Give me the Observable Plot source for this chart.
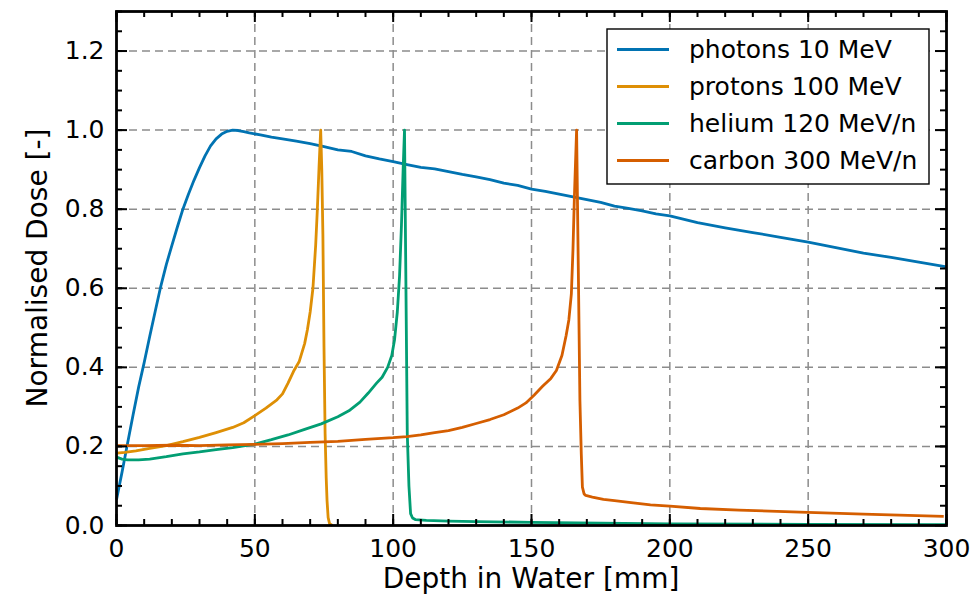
<!DOCTYPE html>
<html>
<head>
<meta charset="utf-8">
<script src="https://cdn.jsdelivr.net/npm/d3@7"></script>
<script src="https://cdn.jsdelivr.net/npm/@observablehq/plot@0.6"></script>
<style>
  html, body { margin: 0; padding: 0; background: white; }
  #chart { width: 978px; height: 598px; }
</style>
</head>
<body>
<div id="chart"></div>
<script>
// ---- Data ----
const seriesNames = ["photons 10 MeV", "protons 100 MeV", "helium 120 MeV/n", "carbon 300 MeV/n"];
const seriesColors = ["#0173B2", "#DE8F05", "#029E73", "#D55E00"];

const photonDepth = [0,2,4,6,8,10,12,14,16,18,20,22,24,26,28,30,32,34,36,38,40,42,44,46,48,52,56,60,65,70,75,80,85,90,95,100,105,110,115,120,125,130,135,140,145,150,155,160,165,170,175,180,185,190,195,200,210,220,230,240,250,260,270,280,290,300];
const photonDose  = [0.065,0.135,0.208,0.28,0.35,0.412,0.478,0.542,0.605,0.66,0.708,0.755,0.80,0.838,0.873,0.905,0.935,0.96,0.978,0.99,0.997,1.0,0.999,0.996,0.993,0.988,0.982,0.978,0.972,0.966,0.958,0.95,0.946,0.935,0.927,0.92,0.913,0.906,0.902,0.895,0.888,0.882,0.875,0.866,0.86,0.851,0.845,0.838,0.831,0.824,0.817,0.808,0.802,0.796,0.788,0.783,0.766,0.753,0.741,0.729,0.717,0.703,0.689,0.678,0.666,0.654];

const protonDepth = [0,3,7,12,18,24,30,36,42,46,50,54,58,60,62,64,66,68,69,70,71,72,72.6,73.2,73.8,74.2,74.6,75,75.4,75.8,76.1,76.5,77,78];
const protonDose  = [0.183,0.185,0.189,0.195,0.202,0.212,0.223,0.235,0.248,0.26,0.278,0.297,0.318,0.333,0.36,0.39,0.414,0.46,0.495,0.54,0.6,0.71,0.8,0.905,1.0,0.9,0.737,0.45,0.232,0.12,0.063,0.02,0.005,0.0];

const heliumDepth = [0,2,4,8,12,18,24,30,36,42,50,56,62,68,74,80,84,88,91,94,96,98,99.5,100.5,101.5,102.3,103,103.6,104.1,105.1,105.7,106.3,107,108,112,120,130,150,175,200,250,300];
const heliumDose  = [0.173,0.168,0.166,0.166,0.168,0.174,0.181,0.186,0.192,0.197,0.206,0.217,0.229,0.243,0.257,0.275,0.29,0.312,0.335,0.36,0.375,0.4,0.43,0.47,0.54,0.63,0.76,0.9,1.0,0.232,0.1,0.03,0.019,0.015,0.013,0.011,0.01,0.008,0.006,0.004,0.003,0.002];

const carbonDepth = [0,10,20,30,40,50,60,70,80,90,100,105,110,115,120,125,130,135,140,145,148,151,154,157,159,161,162.5,163.5,164.4,165,165.5,166.3,166.9,167.5,168,168.4,169,169.6,172,176,180,186,193,200,211,225,247,270,299];
const carbonDose  = [0.202,0.202,0.203,0.202,0.204,0.205,0.207,0.21,0.213,0.218,0.222,0.225,0.229,0.235,0.24,0.248,0.258,0.268,0.28,0.297,0.31,0.33,0.352,0.372,0.392,0.43,0.48,0.52,0.585,0.7,0.83,1.0,0.66,0.316,0.18,0.097,0.08,0.076,0.072,0.066,0.063,0.058,0.052,0.049,0.043,0.039,0.034,0.029,0.023];

const xMajorTicks = [0,50,100,150,200,250,300];
const xMinorTicks = d3.range(0, 301, 10);
const yMajorTicks = [0,0.2,0.4,0.6,0.8,1.0,1.2];
const yMinorTicks = d3.range(0, 27).map(i => +(i * 0.05).toFixed(2));
const xGrid = [50,100,150,200,250];
const yGrid = [0.2,0.4,0.6,0.8,1.0,1.2];

const xLabel = "Depth in Water [mm]";
const yLabel = "Normalised Dose [-]";

// ---- Build table ----
const seriesArrays = [
  [photonDepth, photonDose],
  [protonDepth, protonDose],
  [heliumDepth, heliumDose],
  [carbonDepth, carbonDose]
];
const data = seriesArrays.flatMap(([dx, dy], i) =>
  dx.map((d, j) => ({series: seriesNames[i], depth: d, dose: dy[j]})));

// ---- Layout ----
const W = 978, H = 598;
const mL = 116, mR = 32, mT = 11, mB = 73;
const frameW = W - mL - mR, frameH = H - mT - mB;
const majorLen = 11, minorLen = 6;

const plot = Plot.plot({
  width: W, height: H,
  marginLeft: mL, marginRight: mR, marginTop: mT, marginBottom: mB,
  x: {domain: [0, 300]},
  y: {domain: [0, 1.3]},
  color: {domain: seriesNames, range: seriesColors},
  style: {fontFamily: "DejaVu Sans", fontSize: "25px", background: "white", color: "black"},
  marks: [
    Plot.ruleX(xGrid, {x: d => d, stroke: "#8c8c8c", strokeWidth: 1.5, strokeDasharray: "8,5"}),
    Plot.ruleY(yGrid, {y: d => d, stroke: "#8c8c8c", strokeWidth: 1.5, strokeDasharray: "8,5"}),
    Plot.line(data, {x: "depth", y: "dose", z: "series", stroke: "series", strokeWidth: 2.8, strokeLinejoin: "round", strokeLinecap: "butt"}),
    // inner ticks: bottom & top
    Plot.tickX(xMajorTicks, {x: d => d, insetTop: frameH - majorLen, stroke: "black", strokeWidth: 2}),
    Plot.tickX(xMinorTicks, {x: d => d, insetTop: frameH - minorLen, stroke: "black", strokeWidth: 2}),
    Plot.tickX(xMajorTicks, {x: d => d, insetBottom: frameH - majorLen, stroke: "black", strokeWidth: 2}),
    Plot.tickX(xMinorTicks, {x: d => d, insetBottom: frameH - minorLen, stroke: "black", strokeWidth: 2}),
    // inner ticks: left & right
    Plot.tickY(yMajorTicks, {y: d => d, insetRight: frameW - majorLen, stroke: "black", strokeWidth: 2}),
    Plot.tickY(yMinorTicks, {y: d => d, insetRight: frameW - minorLen, stroke: "black", strokeWidth: 2}),
    Plot.tickY(yMajorTicks, {y: d => d, insetLeft: frameW - majorLen, stroke: "black", strokeWidth: 2}),
    Plot.tickY(yMinorTicks, {y: d => d, insetLeft: frameW - minorLen, stroke: "black", strokeWidth: 2}),
    Plot.frame({stroke: "black", strokeWidth: 2.8}),
    Plot.axisX(xMajorTicks, {tickSize: 0, tickPadding: 14, tickFormat: d3.format("d"), label: null, fontSize: 25}),
    Plot.axisY(yMajorTicks, {tickSize: 0, tickPadding: 12, tickFormat: d3.format(".1f"), label: null, fontSize: 25})
  ]
});

document.getElementById("chart").appendChild(plot);

// ---- Axis labels & legend ----
const svg = d3.select(plot);
svg.append("text")
  .attr("x", mL + frameW / 2).attr("y", 588)
  .attr("text-anchor", "middle")
  .attr("font-family", "DejaVu Sans").attr("font-size", 28).attr("fill", "black")
  .text(xLabel);
svg.append("text")
  .attr("transform", `translate(47,${mT + frameH / 2}) rotate(-90)`)
  .attr("text-anchor", "middle")
  .attr("font-family", "DejaVu Sans").attr("font-size", 28).attr("fill", "black")
  .text(yLabel);

const lg = svg.append("g").attr("transform", "translate(607,29)");
lg.append("rect").attr("width", 322).attr("height", 155)
  .attr("fill", "white").attr("stroke", "black").attr("stroke-width", 1.4);
seriesNames.forEach((name, i) => {
  const cy = 20.5 + i * 37;
  lg.append("line").attr("x1", 10).attr("x2", 62).attr("y1", cy).attr("y2", cy)
    .attr("stroke", seriesColors[i]).attr("stroke-width", 2.8);
  lg.append("text").attr("x", 82).attr("y", cy + 8.5)
    .attr("text-anchor", "start")
    .attr("font-family", "DejaVu Sans").attr("font-size", 25).attr("fill", "black")
    .text(name);
});
</script>
</body>
</html>
